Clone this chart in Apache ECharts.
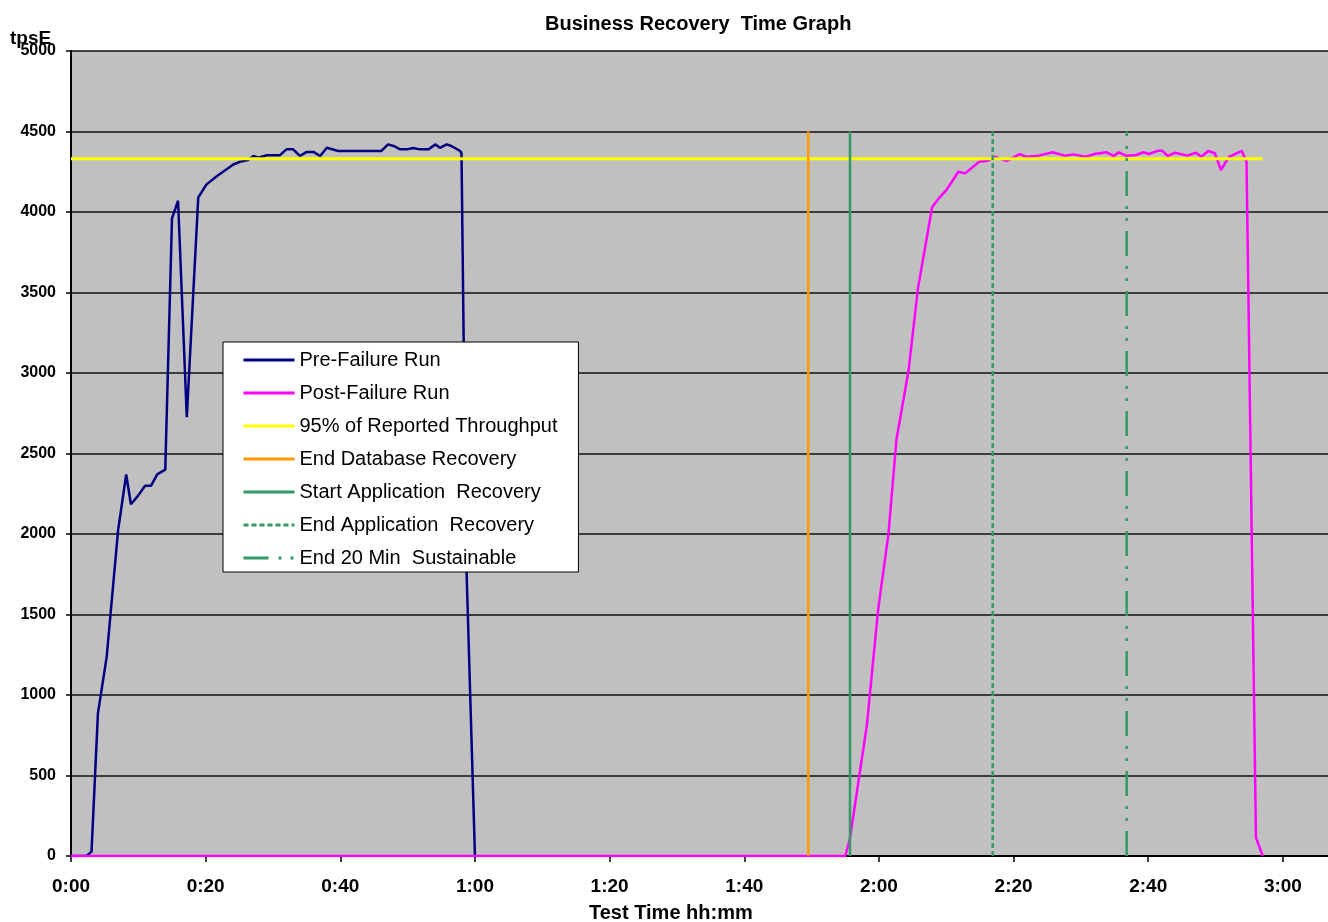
<!DOCTYPE html>
<html>
<head>
<meta charset="utf-8">
<script src="https://cdn.jsdelivr.net/npm/echarts@6/dist/echarts.min.js"></script>
<style>
html,body{margin:0;padding:0;background:#fff;}
#chart{width:1328px;height:922px;}
</style>
</head>
<body>
<div id="chart"></div>
<script>
// ---- data (minutes, tpsE) ----
const preTime = [0, 2.3, 3.05, 4.0, 5.3, 7.0, 8.2, 8.9, 10.0, 11.0, 11.9, 12.8, 14.0, 15.0, 15.9, 17.2, 18.9, 20.1, 21.6, 24.1, 25.1, 26.3, 27.1, 27.8, 29.1, 31.0, 32.0, 33.0, 34.0, 35.0, 36.0, 37.0, 38.0, 39.7, 46.1, 47.1, 47.9, 48.9, 49.9, 50.8, 51.8, 53.1, 54.1, 54.8, 55.8, 56.5, 57.8, 58.0, 58.7, 60.0];
const preTps  = [0, 0, 27, 886, 1237, 2025, 2370, 2185, 2240, 2300, 2300, 2370, 2400, 3960, 4070, 2725, 4090, 4170, 4220, 4295, 4312, 4323, 4348, 4337, 4352, 4352, 4389, 4389, 4348, 4373, 4373, 4348, 4399, 4379, 4379, 4420, 4410, 4389, 4389, 4397, 4389, 4389, 4420, 4399, 4420, 4410, 4379, 4365, 1840, 0];

const postTime = [0, 115.0, 115.7, 118.2, 119.9, 121.4, 122.6, 124.4, 125.8, 127.9, 128.9, 130.1, 131.8, 132.8, 134.9, 136.2, 137.2, 138.3, 139.0, 140.9, 141.9, 143.7, 145.8, 147.6, 148.9, 150.7, 152.0, 153.8, 154.9, 155.6, 156.7, 158.2, 159.3, 160.1, 161.4, 162.1, 162.9, 164.0, 165.8, 167.1, 167.9, 168.9, 169.9, 170.8, 172.0, 173.9, 174.6, 176.0, 177.0];
const postTps  = [0, 0, 110, 810, 1536, 1994, 2585, 3015, 3527, 4030, 4085, 4141, 4250, 4240, 4312, 4318, 4343, 4327, 4317, 4360, 4343, 4350, 4371, 4350, 4358, 4343, 4360, 4371, 4348, 4371, 4350, 4354, 4371, 4360, 4380, 4380, 4348, 4368, 4350, 4368, 4343, 4379, 4365, 4261, 4343, 4379, 4312, 115, 0];

const thresholdTime = [0, 177];
const thresholdTps = 4330;

const markerNames = ['End Database Recovery', 'Start Application  Recovery', 'End Application  Recovery', 'End 20 Min  Sustainable'];
const markerTimes = [109.5, 115.7, 136.9, 156.8];
const markerTop = 4500;

const xTickMinutes = [0, 20, 40, 60, 80, 100, 120, 140, 160, 180];

// ---- chart ----
const FONT = "'Liberation Sans', Arial, sans-serif";
const pair = (xs, ys) => xs.map((x, i) => [x, Array.isArray(ys) ? ys[i] : ys]);
const fmt = m => Math.floor(m / 60) + ':' + String(Math.round(m % 60)).padStart(2, '0');

const markerColors = ['#FF9900', '#339966', '#339966', '#339966'];
const markerTypes = ['solid', 'solid', [5, 3], [25, 10, 3, 9, 3, 10]];

const series = [
  { name: 'Pre-Failure Run', type: 'line', data: pair(preTime, preTps), symbol: 'none',
    lineStyle: { color: '#000080', width: 2.5 }, itemStyle: { color: '#000080' } },
  { name: 'Post-Failure Run', type: 'line', data: pair(postTime, postTps), symbol: 'none',
    lineStyle: { color: '#FF00FF', width: 2.5 }, itemStyle: { color: '#FF00FF' } },
  { name: '95% of Reported Throughput', type: 'line', data: pair(thresholdTime, thresholdTps), symbol: 'none',
    lineStyle: { color: '#FFFF00', width: 3 }, itemStyle: { color: '#FFFF00' } }
];
markerNames.forEach((n, i) => {
  series.push({ name: n, type: 'line', symbol: 'none',
    data: [[markerTimes[i], 0], [markerTimes[i], markerTop]],
    lineStyle: { color: markerColors[i], width: 2.5, type: markerTypes[i] },
    itemStyle: { color: markerColors[i] } });
});

const chart = echarts.init(document.getElementById('chart'), null, { renderer: 'canvas' });
chart.setOption({
  animation: false,
  textStyle: { fontFamily: FONT },
  title: [
    { text: 'Business Recovery  Time Graph', left: 540, top: 9,
      textStyle: { fontFamily: FONT, fontSize: 20, fontWeight: 'bold', color: '#000' } },
    { text: 'tpsE', left: 5, top: 24,
      textStyle: { fontFamily: FONT, fontSize: 19, fontWeight: 'bold', color: '#000' } },
    { text: 'Test Time hh:mm', left: 584, top: 898,
      textStyle: { fontFamily: FONT, fontSize: 20, fontWeight: 'bold', color: '#000' } }
  ],
  grid: { left: 71, top: 51, right: 0, bottom: 66, show: true, backgroundColor: '#C0C0C0', borderWidth: 0, containLabel: false },
  legend: {
    orient: 'vertical', left: 223, top: 342,
    padding: [8, 21, 4, 19],
    itemWidth: 51, itemHeight: 14, itemGap: 13,
    backgroundColor: '#fff', borderColor: '#000', borderWidth: 1, borderRadius: 0,
    itemStyle: { color: 'rgba(0,0,0,0)', borderWidth: 0, opacity: 0 },
    lineStyle: { width: 3 },
    textStyle: { fontFamily: FONT, fontSize: 20, color: '#000', lineHeight: 14 },
    data: series.map(s => ({ name: s.name }))
  },
  xAxis: {
    type: 'value', min: 0, max: 186.7,
    axisLine: { show: true, onZero: false, lineStyle: { color: '#000', width: 2 } },
    axisTick: { show: true, length: 6, customValues: xTickMinutes, lineStyle: { color: '#000', width: 1.5 } },
    splitLine: { show: false },
    axisLabel: { margin: 21, fontFamily: FONT, fontSize: 19, fontWeight: 'bold', color: '#000',
      customValues: xTickMinutes, formatter: v => fmt(v) }
  },
  yAxis: {
    type: 'value', min: 0, max: 5000, interval: 500,
    axisLine: { show: true, lineStyle: { color: '#000', width: 2 } },
    axisTick: { show: true, length: 5, lineStyle: { color: '#000', width: 1.5 } },
    splitLine: { show: true, lineStyle: { color: '#111', width: 1.5 } },
    axisLabel: { margin: 15, fontFamily: FONT, fontSize: 16, fontWeight: 'bold', color: '#000',
      formatter: v => String(v) }
  },
  series: series
});
</script>
</body>
</html>
